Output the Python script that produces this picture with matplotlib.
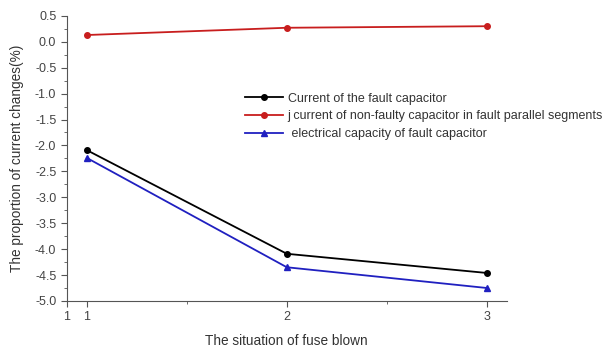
import matplotlib
matplotlib.use("Agg")
import matplotlib.pyplot as plt
from matplotlib.ticker import MultipleLocator

plt.rcParams["font.family"] = ["Liberation Sans", "DejaVu Sans"]

# fuse blown situation
situation = [1, 2, 3]
fault_current = [-2.09, -4.09, -4.46]
nonfaulty_current = [0.13, 0.27, 0.30]
fault_capacity = [-2.24, -4.35, -4.75]

x_ticks = [0.9, 1, 2, 3]
x_tick_labels = ["1", "1", "2", "3"]

fig = plt.figure(figsize=(6.07, 3.52), dpi=100)
ax = fig.add_axes([0.110, 0.145, 0.725, 0.81])

ax.plot(situation, fault_current, color="black", marker="o", ms=4, lw=1.3,
        label="Current of the fault capacitor")
ax.plot(situation, nonfaulty_current, color="#c81e1e", marker="o", ms=4, lw=1.3,
        label="j current of non-faulty capacitor in fault parallel segments")
ax.plot(situation, fault_capacity, color="#2020c0", marker="^", ms=5, lw=1.3,
        label=" electrical capacity of fault capacitor")

ax.set_xlim(0.9, 3.1)
ax.set_ylim(-5.0, 0.5)
ax.set_xticks(x_ticks)
ax.set_xticklabels(x_tick_labels)
ax.xaxis.set_minor_locator(MultipleLocator(0.5))
ax.yaxis.set_major_locator(MultipleLocator(0.5))
ax.yaxis.set_minor_locator(MultipleLocator(0.25))
ax.yaxis.set_major_formatter(plt.FuncFormatter(lambda v, p: f"{v:.1f}"))

for side in ["top", "right"]:
    ax.spines[side].set_visible(False)
for side in ["left", "bottom"]:
    ax.spines[side].set_color("#555555")
ax.tick_params(axis="both", which="major", length=4, color="#555555",
               labelsize=9, labelcolor="#444444")
ax.tick_params(axis="both", which="minor", length=2, color="#555555")

ax.set_xlabel("The situation of fuse blown", fontsize=9.8, color="#333333", labelpad=8)
ax.set_ylabel("The proportion of current changes(%)", fontsize=9.8, color="#333333",
              labelpad=8)

ax.legend(loc="upper left", bbox_to_anchor=(0.38, 0.77), frameon=False,
          fontsize=9, handlelength=3.0, handletextpad=0.4, labelspacing=0.45,
          labelcolor="#333333")

fig.savefig("out.png", dpi=100)
